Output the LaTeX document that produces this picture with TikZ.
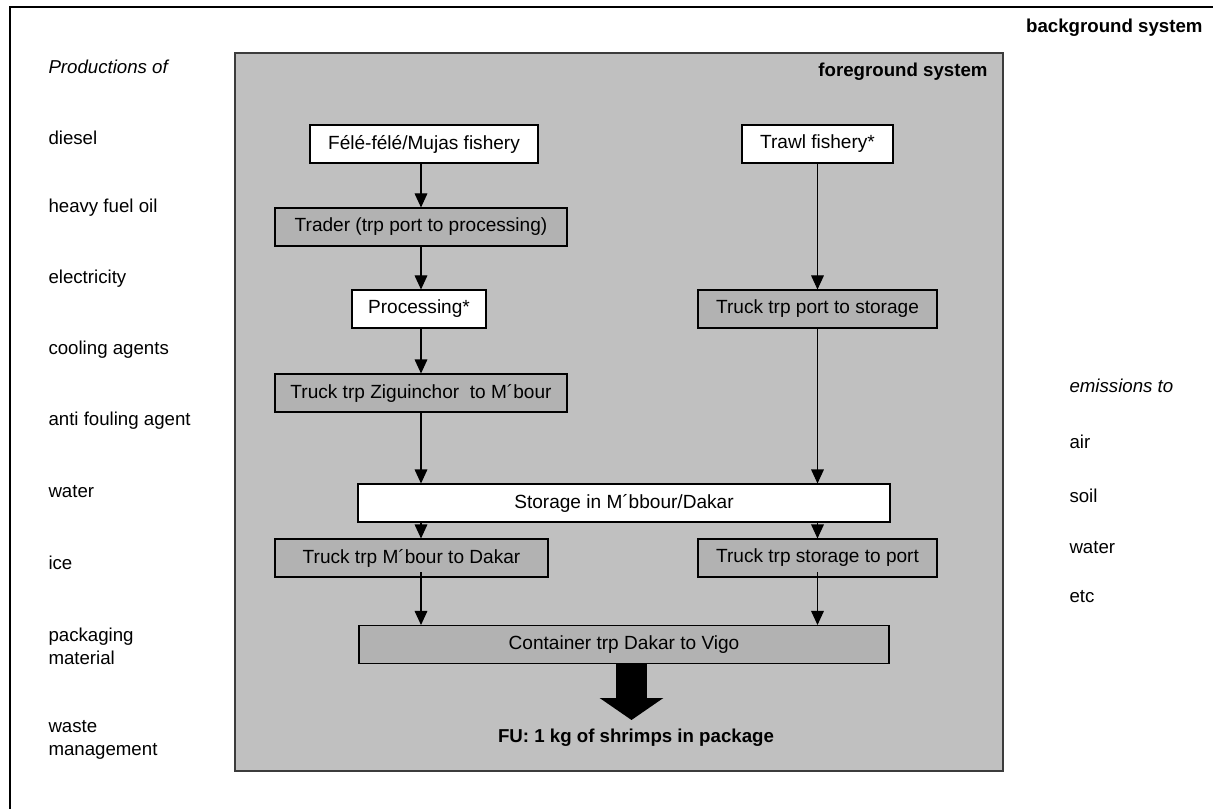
\documentclass[tikz,border=0pt]{standalone}
\usepackage{fontspec}
\setmainfont{Liberation Sans}
\usetikzlibrary{arrows.meta}

\definecolor{fgGrey}{RGB}{192,192,192}
\definecolor{trpGrey}{RGB}{178,178,178}
\definecolor{fgBorder}{RGB}{60,60,60}

\tikzset{every picture/.style={line width=0.75pt}}
\tikzset{
  procbox/.style={draw=black, fill=white, line width=0.8pt, minimum height=28.5pt, inner sep=0pt, font=\fontsize{14.3}{17}\selectfont},
  trpbox/.style={procbox, fill=trpGrey},
  flow/.style={-{Triangle[width=9.5pt,length=10.5pt]}, line width=0.8pt},
  bigflow/.style={-{Triangle[width=47pt,length=16.5pt]}, line width=23.25pt},
  lbl/.style={anchor=west, inner sep=0pt, align=left, font=\fontsize{14}{17}\selectfont},
  title/.style={anchor=east, inner sep=0pt, font=\fontsize{14}{17}\selectfont\bfseries},
}

\def \colL {421}
\def \colR {817.5}
\def \lblX {48}
\def \emX {1069}

\begin{document}
\begin{tikzpicture}[x=0.75pt,y=0.75pt,yscale=-1,xscale=1]

	\useasboundingbox (0,0) rectangle (1213,809);

	%Shape: background frame, only left and top edges fall inside
	\draw [line width=2.2pt] (10,812) -- (10,7) -- (1216,7) ;
	%Shape: foreground system
	\draw [draw=fgBorder, fill=fgGrey, line width=1.2pt] (235,53) rectangle (1003,771) ;

	% Text Node
	\node [title] (bgTitle) at (1203,28) {background system};
	% Text Node
	\node [title] (fgTitle) at (988,72) {foreground system};

	% Inputs from background
	\node [lbl] (prodOf) at (\lblX,67) {\itshape Productions of};
	\node [lbl] (diesel) at (\lblX,138) {diesel};
	\node [lbl] (hfo) at (\lblX,208) {heavy fuel oil};
	\node [lbl] (elec) at (\lblX,279) {electricity};
	\node [lbl] (cool) at (\lblX,350) {cooling agents};
	\node [lbl] (antiFoul) at (\lblX,421) {anti fouling agent};
	\node [lbl] (waterIn) at (\lblX,492) {water};
	\node [lbl] (ice) at (\lblX,563) {ice};
	\node [lbl] (pack) at (\lblX,646) {packaging\\material};
	\node [lbl] (waste) at (\lblX,740) {waste\\management};

	% Emissions
	\node [lbl] (emTo) at (\emX,386) {\itshape emissions to};
	\node [lbl] (air) at (\emX,442) {air};
	\node [lbl] (soil) at (\emX,496) {soil};
	\node [lbl] (waterOut) at (\emX,548) {water};
	\node [lbl] (etc) at (\emX,597) {etc};

	% Process boxes
	\node [procbox, minimum width=171pt] (fele) at (424,144) {Félé-félé/Mujas fishery};
	\node [procbox, minimum width=113.25pt] (trawl) at (\colR,144) {Trawl fishery*};
	\node [trpbox, minimum width=219pt] (trader) at (\colL,227) {Trader (trp port to processing)};
	\node [procbox, minimum width=100.5pt] (proc) at (419,309) {Processing*};
	\node [trpbox, minimum width=179.25pt] (truckPS) at (\colR,309) {Truck trp port to storage};
	\node [trpbox, minimum width=219pt] (zig) at (\colL,393) {Truck trp Ziguinchor\ \ to M´bour};
	\node [procbox, minimum width=399pt] (stor) at (624,503) {Storage in M´bbour/Dakar};
	\node [trpbox, minimum width=204.75pt] (mbour) at (411.5,558) {Truck trp M´bour to Dakar};
	\node [trpbox, minimum width=179.25pt] (truckSP) at (\colR,558) {Truck trp storage to port};
	\node [trpbox, minimum width=397.5pt] (cont) at (624,644.5) {Container trp Dakar to Vigo};

	% Text Node
	\node [inner sep=0pt, font=\fontsize{14}{17}\selectfont\bfseries] (fu) at (636,738) {FU: 1 kg of shrimps in package};

	\coordinate (cL) at (\colL,0);
	\coordinate (cR) at (\colR,0);
	\coordinate (fuTip) at (631.5,720);

	% Flows, left chain
	\draw [flow] (fele.south -| cL) -- (trader.north -| cL);
	\draw [flow] (trader.south -| cL) -- (proc.north -| cL);
	\draw [flow] (proc.south -| cL) -- (zig.north -| cL);
	\draw [flow] (zig.south -| cL) -- (stor.north -| cL);
	\draw [flow] (stor.south -| cL) -- (mbour.north -| cL);
	\draw [flow] ([yshift=-4pt]mbour.south -| cL) -- (cont.north -| cL);
	% Flows, right chain
	\draw [flow] (trawl.south -| cR) -- (truckPS.north -| cR);
	\draw [flow] (truckPS.south -| cR) -- (stor.north -| cR);
	\draw [flow] (stor.south -| cR) -- (truckSP.north -| cR);
	\draw [flow] ([yshift=-4pt]truckSP.south -| cR) -- (cont.north -| cR);
	% Functional unit
	\draw [bigflow] (cont.south -| fuTip) -- (fuTip);

\end{tikzpicture}
\end{document}
